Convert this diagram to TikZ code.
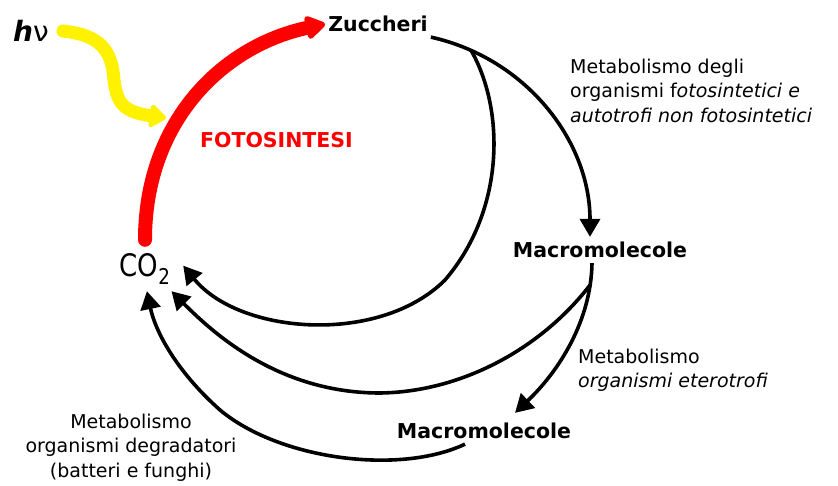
\documentclass[tikz,border=0pt]{standalone}
\usepackage{fontspec}
\setmainfont{DejaVu Sans}
\usetikzlibrary{arrows.meta}

\tikzset{
  mol/.style={font=\bfseries\fontsize{20.5}{24}\selectfont,inner xsep=3pt,inner ysep=5pt},
  note/.style={font=\fontsize{19}{24.5}\selectfont,inner sep=0pt},
  flow/.style={line width=3.6pt,-{Triangle[length=18pt,width=20pt]}},
  synth/.style={red,line width=14pt,line cap=round,-{Triangle[length=22pt,width=26pt,round]}},
  light/.style={yellow,line width=13pt,line cap=round,-{Triangle[length=18pt,width=26pt,round]}},
}

\begin{document}
\begin{tikzpicture}[x=1pt,y=-1pt]
    \useasboundingbox (0,0) rectangle (838,486);
    \node[inner sep=0pt,font=\fontsize{28}{30}\selectfont] (hv) at (31,31) {\textbf{\textit{h}}ν};
    \node[font=\fontsize{31}{34}\selectfont,minimum width=76pt,minimum height=44pt,inner sep=0pt] (co2) at (145,269) {\scalebox{0.84}[1]{CO\textsubscript{2}}};
    \node[mol] (zuc) at (378,24) {Zuccheri};
    \node[mol] (mac1) at (600,250) {Macromolecole};
    \node[mol] (mac2) at (484,431) {Macromolecole};
    \node[note,text=red,font=\bfseries\fontsize{20.5}{24}\selectfont] (fot) at (276.5,140.5) {FOTOSINTESI};
    \node[note,align=left,anchor=north west] (aut) at (570,58.6)
        {Metabolismo degli\\organismi f\textit{otosintetici e}\\\textit{autotrofi non fotosintetici}};
    \node[note,align=left,anchor=north west] (ete) at (578,348.6)
        {Metabolismo\\\textit{organismi eterotrofi}};
    \node[note,align=center,anchor=north] (deg) at (131,413.6)
        {Metabolismo\\organismi degradatori\\(batteri e funghi)};
    \coordinate (sun) at (166,118);

    \draw[light] ([xshift=14pt]hv.east) .. controls (100,35) and (112,50) .. (114,80)
        .. controls (117,105) and (125,112) .. (sun);
    \draw[synth,shorten <=7pt] (co2.north) .. controls (145,122) and (222,46) .. (zuc.west);

    \draw[flow] (zuc.south east) .. controls (525,58) and (590,140) .. ([xshift=-10pt]mac1.north)
        coordinate[pos=.15] (fork1);
    \draw[flow] (fork1) .. controls (505,110) and (505,210) .. (445,280)
        .. controls (380,345) and (240,335) .. (co2.5);
    \draw[flow] ([xshift=-8pt]mac1.south) .. controls (591,320) and (560,370) .. ([xshift=31pt,yshift=5pt]mac2.north)
        coordinate[pos=.13] (fork2);
    \draw[flow] (fork2) .. controls (540,350) and (460,392) .. (380,393)
        .. controls (280,393) and (215,335) .. (co2.-40);
    \draw[flow] ([xshift=-19pt]mac2.south) .. controls (400,475) and (280,460) .. (220,410)
        .. controls (175,370) and (155,330) .. (co2.-85);
\end{tikzpicture}
\end{document}
